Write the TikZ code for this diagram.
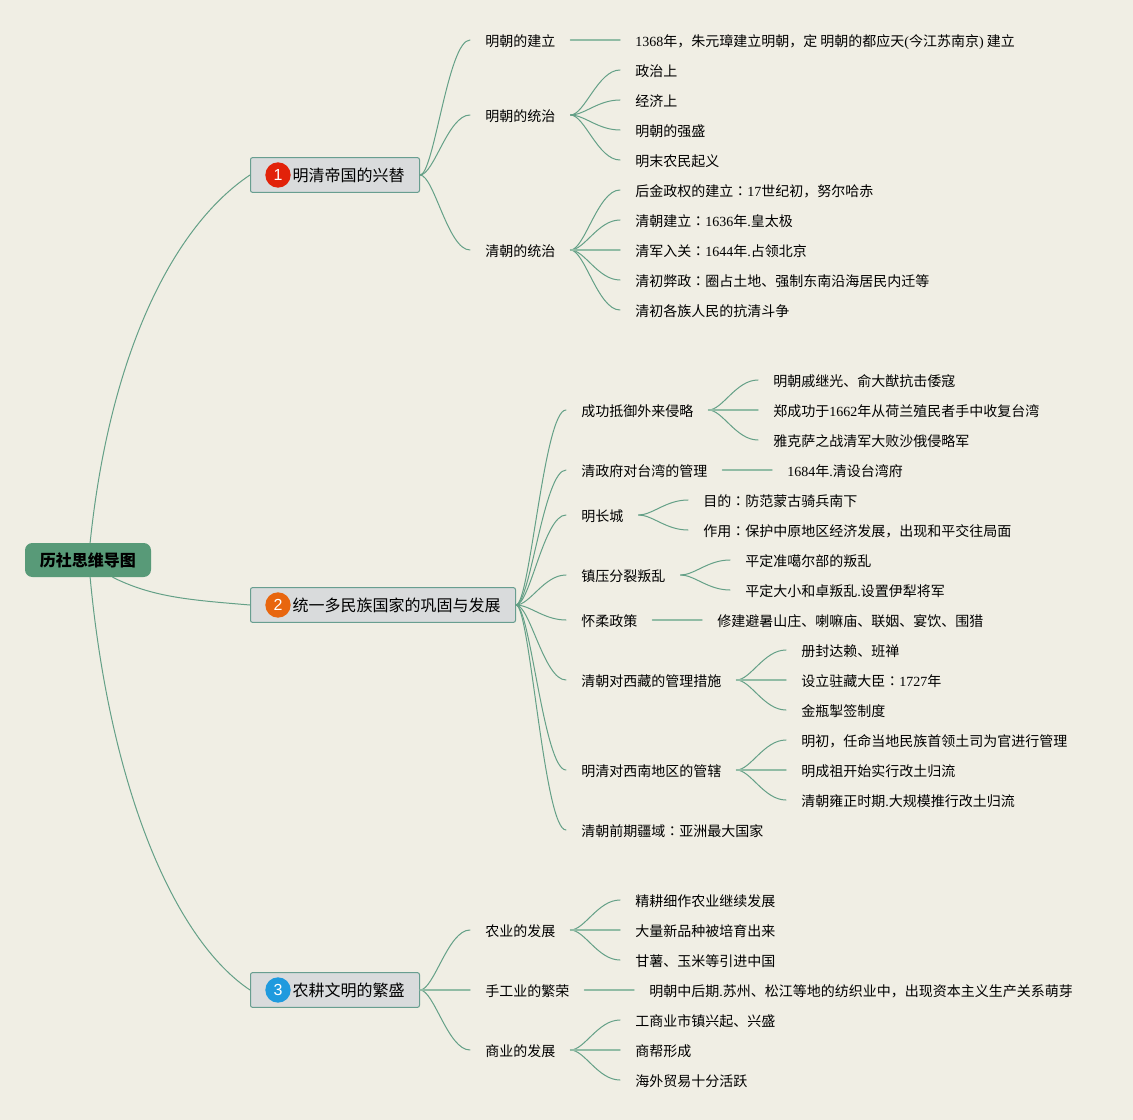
\documentclass[tikz,border=0pt]{standalone}
\usepackage{fontspec}
\setmainfont{Noto Sans CJK SC}
\newfontfamily\latinfont{Liberation Serif}
\newfontfamily\iconfont{Liberation Sans}
\newfontfamily\tcfont{Noto Sans CJK TC}
\newcommand{\lat}[1]{{\latinfont #1}}
\newcommand{\cln}{{\tcfont ：}}
\usetikzlibrary{arrows.meta}
\definecolor{paper}{RGB}{240,238,228}
\definecolor{rootgreen}{RGB}{88,154,120}
\definecolor{boxgrey}{RGB}{217,219,220}
\definecolor{boxedge}{RGB}{104,158,144}
\definecolor{linkgreen}{RGB}{100,160,135}
\definecolor{stemgreen}{RGB}{145,188,165}
\definecolor{iconred}{RGB}{226,34,10}
\definecolor{iconorange}{RGB}{232,102,15}
\definecolor{iconblue}{RGB}{31,154,222}
\tikzset{
  every picture/.style={line join=round, line cap=round},
  root/.style={fill=rootgreen, rounded corners=5.5pt, minimum width=94.5pt, minimum height=25.5pt, inner sep=0pt, font=\fontsize{12}{12}\selectfont\bfseries},
  topic/.style={anchor=west, fill=boxgrey, draw=boxedge, line width=0.75pt, rounded corners=1.5pt, minimum height=26pt, inner ysep=0pt, inner xsep=11.25pt, font=\fontsize{12}{12}\selectfont},
  leaf/.style={anchor=west, inner ysep=0pt, inner xsep=11.25pt, text height=10.5pt, text depth=1pt, font=\fontsize{10.5}{10.5}\selectfont},
  icon/.style={circle, minimum size=19pt, inner sep=0pt, text=white, font=\iconfont\fontsize{12}{12}\selectfont},
  link/.style={draw=linkgreen, line width=0.75pt},
  stem/.style={draw=stemgreen, line width=1.1pt},
}
\newcommand{\fan}[2]{\foreach \kid in {#2} \draw[link] (#1.east) .. controls +(14,0) and +(-22,0) .. (\kid.west);}
\begin{document}
\begin{tikzpicture}[x=0.75pt,y=-0.75pt]
\useasboundingbox[fill=paper] (0,0) rectangle (1133,1120);
% root and topics
\node[root] (root) at (88,560) {历社思维导图};
\node[topic] (t1) at (250,175) {\hspace*{20.25pt}明清帝国的兴替};
\node[topic] (t2) at (250,605) {\hspace*{20.25pt}统一多民族国家的巩固与发展};
\node[topic] (t3) at (250,990) {\hspace*{20.25pt}农耕文明的繁盛};
\node[icon,fill=iconred] (i1) at (278,175) {1};
\node[icon,fill=iconorange] (i2) at (278,605) {2};
\node[icon,fill=iconblue] (i3) at (278,990) {3};
\draw[link] (root.83) .. controls +(20,-193) and +(-75,50) .. (t1.west);
\draw[link] (root.-35) .. controls +(40,20) and +(-60,-5) .. (t2.west);
\draw[link] (root.-83) .. controls +(20,213) and +(-75,-50) .. (t3.west);
% first topic
\node[leaf] (a1) at (470,40) {明朝的建立};
\node[leaf] (a2) at (470,115) {明朝的统治};
\node[leaf] (a3) at (470,250) {清朝的统治};
\node[leaf] (a11) at (620,40) {\lat{1368}年，朱元璋建立明朝，定 明朝的都应天\lat{(}今江苏南京\lat{)} 建立};
\node[leaf] (a21) at (620,70) {政治上};
\node[leaf] (a22) at (620,100) {经济上};
\node[leaf] (a23) at (620,130) {明朝的强盛};
\node[leaf] (a24) at (620,160) {明末农民起义};
\node[leaf] (a31) at (620,190) {后金政权的建立\cln\lat{17}世纪初，努尔哈赤};
\node[leaf] (a32) at (620,220) {清朝建立\cln\lat{1636}年\lat{.}皇太极};
\node[leaf] (a33) at (620,250) {清军入关\cln\lat{1644}年\lat{.}占领北京};
\node[leaf] (a34) at (620,280) {清初弊政\cln 圈占土地、强制东南沿海居民内迁等};
\node[leaf] (a35) at (620,310) {清初各族人民的抗清斗争};
\fan{t1}{a1,a2,a3}
\draw[stem] (a1.east) -- (a11.west);
\fan{a2}{a21,a22,a23,a24}
\fan{a3}{a31,a32,a34,a35}
\draw[stem] (a3.east) -- (a33.west);
% second topic
\node[leaf] (b1) at (566,410) {成功抵御外来侵略};
\node[leaf] (b2) at (566,470) {清政府对台湾的管理};
\node[leaf] (b3) at (566,515) {明长城};
\node[leaf] (b4) at (566,575) {镇压分裂叛乱};
\node[leaf] (b5) at (566,620) {怀柔政策};
\node[leaf] (b6) at (566,680) {清朝对西藏的管理措施};
\node[leaf] (b7) at (566,770) {明清对西南地区的管辖};
\node[leaf] (b8) at (566,830) {清朝前期疆域\cln 亚洲最大国家};
\node[leaf] (b11) at (758,380) {明朝戚继光、俞大猷抗击倭寇};
\node[leaf] (b12) at (758,410) {郑成功于\lat{1662}年从荷兰殖民者手中收复台湾};
\node[leaf] (b13) at (758,440) {雅克萨之战清军大败沙俄侵略军};
\node[leaf] (b21) at (772,470) {\lat{1684}年\lat{.}清设台湾府};
\node[leaf] (b31) at (688,500) {目的\cln 防范蒙古骑兵南下};
\node[leaf] (b32) at (688,530) {作用\cln 保护中原地区经济发展，出现和平交往局面};
\node[leaf] (b41) at (730,560) {平定准噶尔部的叛乱};
\node[leaf] (b42) at (730,590) {平定大小和卓叛乱\lat{.}设置伊犁将军};
\node[leaf] (b51) at (702,620) {修建避暑山庄、喇嘛庙、联姻、宴饮、围猎};
\node[leaf] (b61) at (786,650) {册封达赖、班禅};
\node[leaf] (b62) at (786,680) {设立驻藏大臣\cln\lat{1727}年};
\node[leaf] (b63) at (786,710) {金瓶掣签制度};
\node[leaf] (b71) at (786,740) {明初，任命当地民族首领土司为官进行管理};
\node[leaf] (b72) at (786,770) {明成祖开始实行改土归流};
\node[leaf] (b73) at (786,800) {清朝雍正时期\lat{.}大规模推行改土归流};
\fan{t2}{b1,b2,b3,b4,b5,b6,b7,b8}
\fan{b1}{b11,b13}
\draw[stem] (b1.east) -- (b12.west);
\draw[stem] (b2.east) -- (b21.west);
\fan{b3}{b31,b32}
\fan{b4}{b41,b42}
\draw[stem] (b5.east) -- (b51.west);
\fan{b6}{b61,b63}
\draw[stem] (b6.east) -- (b62.west);
\fan{b7}{b71,b73}
\draw[stem] (b7.east) -- (b72.west);
% third topic
\node[leaf] (c1) at (470,930) {农业的发展};
\node[leaf] (c2) at (470,990) {手工业的繁荣};
\node[leaf] (c3) at (470,1050) {商业的发展};
\node[leaf] (c11) at (620,900) {精耕细作农业继续发展};
\node[leaf] (c12) at (620,930) {大量新品种被培育出来};
\node[leaf] (c13) at (620,960) {甘薯、玉米等引进中国};
\node[leaf] (c21) at (634,990) {明朝中后期\lat{.}苏州、松江等地的纺织业中，出现资本主义生产关系萌芽};
\node[leaf] (c31) at (620,1020) {工商业市镇兴起、兴盛};
\node[leaf] (c32) at (620,1050) {商帮形成};
\node[leaf] (c33) at (620,1080) {海外贸易十分活跃};
\fan{t3}{c1,c3}
\draw[stem] (t3.east) -- (c2.west);
\fan{c1}{c11,c13}
\draw[stem] (c1.east) -- (c12.west);
\draw[stem] (c2.east) -- (c21.west);
\fan{c3}{c31,c33}
\draw[stem] (c3.east) -- (c32.west);
\end{tikzpicture}
\end{document}
